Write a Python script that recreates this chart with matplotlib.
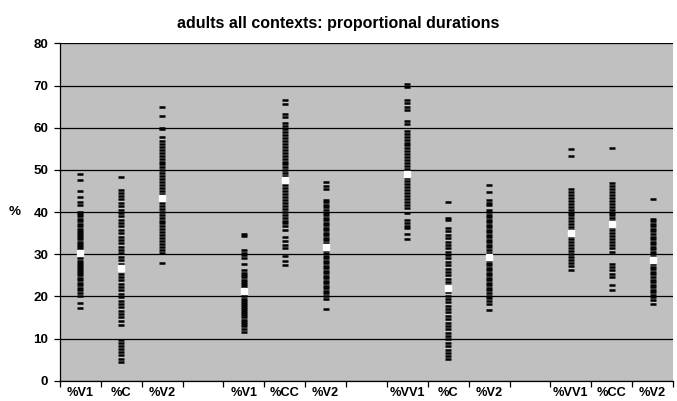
#!/usr/bin/env python3
"""
Proportional durations per segment, adults all contexts (Excel-style strip chart)
"""

import matplotlib
matplotlib.use('Agg')
import matplotlib.pyplot as plt

# category labels, one per slot; '' marks the empty slot between groups
labels = ['%V1', '%C', '%V2', '', '%V1', '%CC', '%V2', '',
          '%VV1', '%C', '%V2', '', '%VV1', '%CC', '%V2']

# individual values (%)
v1_a = [49.0, 47.5, 44.9, 43.6, 42.5, 41.6, 40.1, 39.5, 39.0, 38.4, 37.8, 37.2,
        36.6, 36.1, 35.6, 35.0, 34.5, 34.0, 33.5, 33.0, 32.5, 32.0, 31.5, 31.0,
        30.5, 30.0, 29.5, 29.0, 28.5, 28.0, 27.5, 27.0, 26.5, 26.0, 25.5, 25.0,
        24.4, 23.8, 23.2, 22.6, 22.0, 21.4, 20.8, 20.2, 18.4, 17.2]
c_a = [48.4, 45.3, 44.6, 43.8, 43.0, 42.2, 41.4, 40.6, 39.8, 39.0, 38.2, 37.4,
       36.6, 35.8, 35.0, 34.2, 33.4, 32.6, 31.8, 31.0, 30.2, 29.4, 28.6, 27.8,
       27.0, 26.2, 25.4, 24.6, 23.8, 23.0, 22.2, 21.4, 20.6, 19.8, 19.0, 18.2,
       17.4, 16.6, 15.8, 15.0, 14.2, 13.3, 9.7, 9.0, 8.2, 7.5, 6.8, 6.0, 5.2, 4.4]
v2_a = [65.0, 62.9, 59.9, 59.6, 57.9, 56.9, 56.2, 55.5, 54.8, 54.1, 53.4, 52.7,
        52.0, 51.3, 50.6, 49.9, 49.2, 48.5, 47.8, 47.1, 46.4, 45.7, 45.0, 44.3,
        43.6, 42.9, 42.2, 41.5, 40.8, 40.1, 39.4, 38.7, 38.0, 37.3, 36.6, 35.9,
        35.2, 34.5, 33.8, 33.1, 32.4, 31.7, 31.0, 30.2, 28.0]
v1_b = [34.9, 34.4, 31.0, 30.4, 29.8, 29.1, 27.6, 26.2, 25.5, 25.0, 24.5, 24.0,
        23.5, 23.0, 22.5, 22.0, 21.5, 21.0, 20.5, 20.0, 19.5, 19.0, 18.5, 18.0,
        17.5, 17.0, 16.5, 16.0, 15.5, 15.0, 14.5, 14.0, 13.5, 13.0, 12.3, 11.5]
cc_b = [66.5, 65.7, 63.3, 62.5, 61.1, 60.4, 59.7, 59.0, 58.3, 57.6, 56.9, 56.2,
        55.5, 54.8, 54.1, 53.4, 52.7, 52.0, 51.3, 50.6, 49.9, 49.2, 48.5, 47.8,
        47.1, 46.4, 45.7, 45.0, 44.3, 43.6, 42.9, 42.2, 41.5, 40.8, 40.1, 39.4,
        38.7, 38.0, 37.3, 36.6, 35.8, 34.2, 33.2, 32.3, 31.4, 29.6, 28.4, 27.4]
v2_b = [47.1, 46.3, 45.5, 42.9, 42.3, 41.7, 41.1, 40.5, 39.9, 39.3, 38.7, 38.1,
        37.5, 36.9, 36.3, 35.7, 35.1, 34.5, 33.9, 33.3, 32.7, 32.1, 31.5, 30.9,
        30.3, 29.7, 29.1, 28.5, 27.9, 27.3, 26.7, 26.1, 25.5, 24.9, 24.3, 23.7,
        23.1, 22.5, 21.9, 21.3, 20.7, 20.1, 19.4, 17.0]
vv1_c = [70.3, 69.7, 66.5, 65.8, 65.0, 64.1, 61.7, 60.9, 59.3, 58.6, 57.9, 57.2,
         56.5, 55.8, 55.1, 54.4, 53.7, 53.0, 52.3, 51.6, 50.9, 50.2, 49.5, 48.8,
         48.1, 47.4, 46.7, 46.0, 45.3, 44.6, 43.9, 43.2, 42.5, 41.8, 41.0, 39.9,
         38.2, 37.5, 36.8, 36.2, 34.7, 33.7]
c_c = [42.5, 38.7, 38.2, 36.2, 35.4, 34.6, 33.8, 33.0, 32.2, 31.4, 30.6, 29.8,
       29.0, 28.2, 27.4, 26.6, 25.8, 25.0, 24.2, 23.4, 22.6, 21.8, 21.0, 20.2,
       19.4, 18.6, 17.8, 17.0, 16.2, 15.4, 14.6, 13.8, 13.0, 12.2, 11.4, 10.6,
       9.8, 9.0, 8.2, 7.4, 6.6, 5.8, 5.1]
v2_c = [46.5, 44.7, 42.9, 42.2, 41.7, 40.6, 40.0, 39.4, 38.8, 38.2, 37.6, 37.0,
        36.4, 35.8, 35.2, 34.6, 34.0, 33.4, 32.8, 32.2, 31.6, 31.0, 30.4, 29.8,
        29.2, 28.6, 28.0, 27.4, 26.8, 26.2, 25.6, 25.0, 24.4, 23.8, 23.2, 22.6,
        22.0, 21.4, 20.8, 20.2, 19.6, 19.0, 18.2, 16.7]
vv1_d = [54.9, 53.3, 45.5, 44.8, 44.1, 43.4, 42.7, 42.0, 41.3, 40.6, 39.9, 39.2,
         38.5, 37.8, 37.1, 36.4, 35.7, 35.0, 34.3, 33.6, 32.9, 32.2, 31.5, 30.8,
         30.1, 29.4, 28.7, 28.0, 27.3, 26.2]
cc_d = [55.1, 46.9, 46.2, 45.5, 44.8, 44.1, 43.4, 42.7, 42.0, 41.3, 40.6, 39.9,
        39.2, 38.5, 37.8, 37.1, 36.4, 35.7, 35.0, 34.3, 33.6, 32.9, 32.2, 31.5,
        30.6, 27.8, 27.0, 26.2, 25.4, 24.6, 22.8, 21.4]
v2_d = [43.2, 38.4, 37.8, 37.2, 36.6, 36.0, 35.4, 34.8, 34.2, 33.6, 33.0, 32.4,
        31.8, 31.2, 30.6, 30.0, 29.4, 28.8, 28.2, 27.6, 27.0, 26.4, 25.8, 25.2,
        24.6, 24.0, 23.4, 22.8, 22.2, 21.6, 21.0, 20.4, 19.8, 19.2, 18.2]

# slot index of each data column and its mean (white square)
slots = [0, 1, 2, 4, 5, 6, 8, 9, 10, 12, 13, 14]
columns = [v1_a, c_a, v2_a, v1_b, cc_b, v2_b, vv1_c, c_c, v2_c, vv1_d, cc_d, v2_d]
means = [30.4, 26.7, 43.3, 21.3, 47.5, 31.8, 49.0, 22.1, 29.4, 35.0, 37.2, 28.6]

plt.rcParams['font.family'] = ['Liberation Sans', 'DejaVu Sans']

fig = plt.figure(figsize=(6.77, 4.01), dpi=100)
ax = fig.add_axes([0.0886, 0.0506, 0.9055, 0.8410])
ax.set_facecolor('#C0C0C0')

for slot, vals in zip(slots, columns):
    ax.plot([slot] * len(vals), vals, linestyle='none', marker='_',
            markersize=4.5, markeredgewidth=1.8, color='black', zorder=3)
ax.plot(slots, means, linestyle='none', marker='s', markersize=3.8,
        markerfacecolor='white', markeredgecolor='white', zorder=4)

ax.set_xlim(-0.5, len(labels) - 0.5)
ax.set_ylim(0, 80)
ax.set_yticks(range(0, 81, 10))
ax.grid(axis='y', color='black', linewidth=0.9)
ax.set_axisbelow(True)

# labels sit under the slot centres, tick marks on the slot boundaries
ax.set_xticks(range(len(labels)))
ax.set_xticklabels(labels, fontsize=9.2, fontweight='bold')
ax.set_xticks([i - 0.5 for i in range(len(labels) + 1)], minor=True)
ax.tick_params(axis='x', which='major', length=0, pad=4.5)
ax.tick_params(axis='x', which='minor', length=4, direction='out', width=0.9)
ax.tick_params(axis='y', length=4, direction='out', width=0.9, pad=4.5)
for lbl in ax.get_yticklabels():
    lbl.set_fontsize(9.6)
    lbl.set_fontweight('bold')

for side in ['top', 'right']:
    ax.spines[side].set_visible(False)
ax.spines['left'].set_linewidth(0.9)
ax.spines['bottom'].set_linewidth(0.9)

fig.text(15 / 677, 1 - 212 / 401, '%', fontsize=9.6, fontweight='bold',
         ha='center', va='center')
fig.text(0.5, 1 - 28.3 / 401, 'adults all contexts: proportional durations',
         fontsize=11.5, fontweight='bold', ha='center', va='baseline')

plt.savefig('out.png', dpi=100)
plt.close()
